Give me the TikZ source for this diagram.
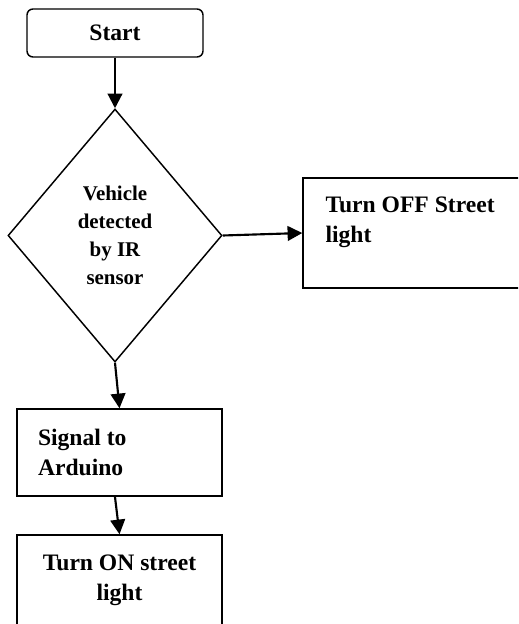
\documentclass[tikz,border=0pt]{standalone}
\usepackage{fontspec}
\setmainfont{Liberation Serif}
\usetikzlibrary{shapes.geometric,arrows.meta}

\tikzset{every picture/.style={line width=0.75pt}}
\tikzset{
  flowbox/.style={draw, line width=1.1pt, inner sep=0pt},
  flowarrow/.style={line width=1.6pt, -{Triangle[length=11pt,width=11pt]}},
  boxfont/.style={font=\fontsize{17.7}{22.5}\selectfont\bfseries},
}

\begin{document}
\begin{tikzpicture}[x=0.75pt,y=0.75pt,yscale=-1,xscale=1]
    \useasboundingbox (0,0) rectangle (518,624);
    \clip (0,0) rectangle (518,624);

    %Rounded Rect [id:start]
    \node (start) [flowbox, rounded corners=4.5pt, minimum width=132pt, minimum height=36pt, boxfont] at (115,33) {Start};
    %Diamond [id:dec]
    \node (dec) [flowbox, diamond, minimum width=160.5pt, minimum height=189.75pt, align=center, font=\fontsize{15.7}{21}\selectfont\bfseries] at (115,235.5) {Vehicle\\detected\\by IR\\sensor};

    %Shape: Rectangle [id:off]
    \node (off) [flowbox, minimum width=192.75pt, minimum height=82.5pt] at (431.5,233) {};
    % Text Node
    \node (offtext) [anchor=north west, inner sep=0pt, align=left, boxfont] at (325,196) {Turn OFF Street\\light};

    %Shape: Rectangle [id:sig]
    \node (sig) [flowbox, minimum width=153.75pt, minimum height=65.25pt, inner xsep=15.75pt, text width=122.25pt, align=flush left, boxfont] at (119.5,452.5) {Signal to\\Arduino};
    %Shape: Rectangle [id:on]
    \node (on) [flowbox, minimum width=153.75pt, minimum height=67.5pt, align=center, boxfont] at (119.5,580) {Turn ON street\\light};

    %Straight Lines
    \draw [flowarrow] (start) -- (dec);
    \draw [flowarrow] (dec.east) -- (off.west);
    \draw [flowarrow] (dec.south) -- (sig.north);
    \draw [flowarrow] ([xshift=-3.4pt]sig.south) -- (on.north);

\end{tikzpicture}
\end{document}
